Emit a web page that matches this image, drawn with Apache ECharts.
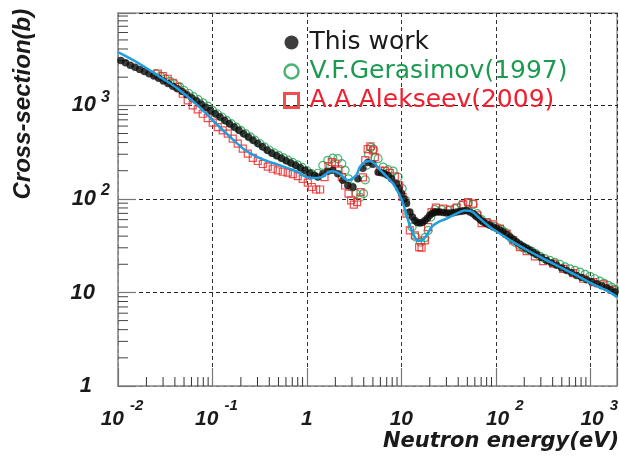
<!DOCTYPE html>
<html><head><meta charset="utf-8">
<script src="https://cdn.jsdelivr.net/npm/echarts@6/dist/echarts.min.js"></script>
<style>html,body{margin:0;padding:0;background:#fff}#c{width:619px;height:458px}</style>
</head><body><div id="c"></div>
<script>
// ---- data ----
const X_MIN = 0.01, X_MAX = 1920, Y_MIN = 1, Y_MAX = 9700;

const thisWorkE = [0.01072,0.01202,0.01349,0.01514,0.01698,0.01905,0.02138,0.02399,0.02692,0.0302,0.03388,0.03802,0.04266,0.04786,0.0537,0.06026,0.06761,0.07586,0.08511,0.0955,0.1072,0.1202,0.1349,0.1514,0.1698,0.1905,0.2138,0.2399,0.2692,0.302,0.3388,0.3802,0.4266,0.4786,0.537,0.6026,0.6761,0.7586,0.8511,0.955,1.072,1.202,
1.305,1.474,1.665,1.881,2.125,2.400,2.713,3.064,3.461,3.910,4.417,4.990,5.68,6.15,6.69,7.2,7.88,8.90,9.45,10.05,10.7,11.35,12.30,13.1,13.90,14.8,15.70,16.7,17.74,18.9,20.04,21.3,22.64,24.0,25.57,27.8,30.11,32.6,35.38,38.4,41.66,45.2,49.06,53.2,57.6,61.2,65.1,69.2,73.5,79.8,86.6,94.0,102.0,110.6,119.8,130.0,141.1,153.1,166.1,180.0,195.1,211.7,229.7,249.3,270.5,305.6,345.2,390,440.6,497.8,562.3,635,717.7,810.7,915.9,1035,1169,1321,1492,1651,1827];
const thisWorkS = [3020,2851,2685,2547,2421,2296,2178,2056,1941,1820,1710,1603,1507,1403,1300,1205,1119,1035,955,881,811,748,689,635,585,540,498,459,424,390,360,331,308,289,272,256,242,229,215,202,189,179,
171,186,197,202,186,158,139,134,164,212,245,234,193,190,186,178,164,145,130,114,100,89,72.3,64,58.9,56,55.1,56,58.9,62,66.7,70,72.3,72.5,72.3,71.4,70.5,70.8,71.2,72.3,73.5,74.4,75.3,72.5,69.5,66.2,63.0,59.6,56.5,54.2,52.1,50.1,48.1,46.1,44.2,41.6,39.1,36.7,34.5,32.7,31.1,29.6,28.2,26.8,25.5,23.7,22.0,20.7,19.5,18.3,17.2,16.2,15.2,14.4,13.7,13.0,12.4,11.8,11.2,10.6,10.1];

const gerasimovE = [0.0251,0.0282,0.0316,0.0355,0.0398,0.0447,0.0501,0.0562,0.0631,0.0708,0.0794,0.0891,0.1,0.1122,0.1259,0.1413,0.1585,0.1778,0.1995,0.2239,0.2512,0.2818,0.3162,0.3548,0.3981,0.4467,0.5012,0.5623,0.631,0.7079,0.7943,0.8913,1.0,1.122,
1.305,1.474,1.665,1.881,2.125,2.342,2.539,2.758,2.99,3.32,3.66,3.98,4.15,4.32,4.50,4.75,5.10,5.68,6.42,7.25,8.19,9.25,10.2,11.08,12.0,13.0,14.24,15.98,17.74,19.2,20.5,22.6,
26.7,31.3,36.9,43.4,51.0,57.6,63.5,70.7,83.1,97.8,105,115.2,125,135.3,147,159.4,177,195.1,215,239.4,265,293.3,330,374.2,420,477.5,540,609.5,690,778,880,993,1120,1267,1400,1551,1700,1827];
const gerasimovS = [2178,2051,1923,1807,1694,1585,1442,1337,1236,1148,1062,980,883,813,750,690,637,586,541,499,460,424,391,360,333,311,292,275,259,245,231,217,200,186,
188,228,258,273,269,238,202,164,134,114,104,114,160,230,300,355,340,269,219,205,198,171,129,96.4,69.5,50.0,39.1,34.5,38.5,46.0,64.0,76.7,
76.7,75.3,78.5,85.3,90.2,87.3,69.5,60.0,55.1,50.8,49,46.9,44,40.7,37.5,34.5,32,30.1,29,27.7,26,24.3,23,22.0,21,20.0,18.8,17.9,17.2,16.5,15.6,14.9,14.0,13.2,12.5,11.9,11.3,10.7];

const alekseevE = [0.02634,0.02975,0.0336,0.03797,0.04288,0.04845,0.05472,0.0618,0.06984,0.07888,0.0891,0.1007,0.1138,0.1285,0.1452,0.1641,0.1853,0.2094,0.2365,0.2673,0.302,0.3411,0.3853,0.4353,0.4917,0.5555,0.6275,0.7089,0.8009,0.9048,
1.022,1.127,1.252,1.380,1.536,1.694,1.835,1.990,2.161,2.342,2.539,2.758,2.939,3.139,3.402,3.697,3.92,4.15,4.40,4.70,5.0,5.24,5.92,
6.69,7.55,8.53,9.48,10.30,11.35,12.30,13.90,15.44,16.37,17.74,19.22,20.89,23.20,27.73,32.64,38.44,45.15,51.01,57.63,63.53,70.73,79.90,93.87,110.5,130.1,152.9,180.0,212.0,259.5,317.8,405.6,517.6,660.5,843.0,1076,1373,1686];
const alekseevS = [2177,2051,1923,1743,1565,1330,1128,997,904,813,730,652,585,540,498,440,389,344,304,275,254,236,221,210,202,195,191,184,175,164,
149,134,126,126,171,224,247,238,207,171,139,114,96.4,86.7,92.5,118,170,260,340,365,330,279,201,
199,189,174,139,105,69.5,46,40.7,30.5,30.1,36,50,72.3,80.8,78.5,76.7,80.8,87.3,92.2,89,66.5,55.1,56.5,53.3,48.1,42.6,36,30.5,27.7,24.3,21.6,20.3,17.9,16.1,14.0,12.9,12.2,10.7];

const evalE = [0.01,0.0162,0.0263,0.0429,0.0698,0.1008,0.1452,0.2173,0.327,0.494,0.736,1.107,1.414,1.805,2.215,2.713,3.32,3.635,4.106,4.638,5.24,5.92,6.97,8.19,9.25,10.45,11.80,13.34,15.07,16.37,18.49,20.89,24.54,30.11,38.44,47.07,55.41,67.87,86.6,110.5,152.9,212.0,317.8,477.5,717.7,1076,1492,1920];
const evalS = [3700,2851,2085,1504,997,690,485,338,269,232,201,167,171,197,186,158,178,219,247,254,238,205,174,145,118,89,58.9,42.6,35.5,36,40.7,50,56.5,61.5,69.5,75.3,73.5,61.5,50,42.6,34.5,28.6,23.0,18.7,15.2,12.2,10.5,8.9];

const seriesNames = ['This work', 'V.F.Gerasimov(1997)', 'A.A.Alekseev(2009)'];
const xAxisTitle = 'Neutron energy(eV)';
const yAxisTitle = 'Cross-section(b)';

// minor tick positions (2..9 x 10^n)
const xMinorTicks = [];
for (let n = -2; n <= 3; n++) for (let m = 2; m <= 9; m++) { const v = m * Math.pow(10, n); if (v < X_MAX) xMinorTicks.push(+v.toPrecision(3)); }
const yMinorTicks = [];
for (let n = 0; n <= 3; n++) for (let m = 2; m <= 9; m++) { const v = m * Math.pow(10, n); if (v < Y_MAX) yMinorTicks.push(+v.toPrecision(3)); }

// ---- styles ----
const C_BLACK = '#0d0d0d', C_GREEN = '#1fa052', C_RED = '#ee2020', C_BLUE = '#1f9fdf';
const BI = {fontFamily: 'Liberation Sans', fontWeight: 'bold', fontStyle: 'italic', color: '#1a1a1a'};
const zip = (a, b) => a.map((v, i) => [v, b[i]]);
const expOf = v => { const l = Math.log10(v); const r = Math.round(l); return Math.abs(l - r) < 0.01 ? r : null; };
const SQUARE = 'path://M0,0L10,0L10,10L0,10Z';

const chart = echarts.init(document.getElementById('c'), null, {renderer: 'canvas'});
chart.setOption({
  animation: false,
  backgroundColor: '#ffffff',
  grid: {left: 118, right: 2, top: 13, bottom: 72, show: true, borderColor: '#9a9a9a', borderWidth: 1.5, containLabel: false, outerBoundsMode: 'none'},
  legend: {
    orient: 'vertical', left: 283, top: 30, padding: 0, itemGap: 4,
    itemWidth: 26, itemHeight: 14, selectedMode: false,
    textStyle: {fontFamily: 'DejaVu Sans', fontSize: 25, color: '#222'},
    data: [
      {name: seriesNames[0], icon: 'circle', itemStyle: {color: C_BLACK, borderWidth: 0}, textStyle: {color: '#1a1a1a'}},
      {name: seriesNames[1], icon: 'circle', itemStyle: {color: 'rgba(0,0,0,0)', borderColor: C_GREEN, borderWidth: 2.5}, textStyle: {color: '#1b9a50'}},
      {name: seriesNames[2], icon: SQUARE, itemStyle: {color: 'rgba(0,0,0,0)', borderColor: C_RED, borderWidth: 3}, textStyle: {color: '#ee2030'}}
    ]
  },
  xAxis: {
    type: 'log', logBase: 10, min: X_MIN, max: X_MAX,
    name: xAxisTitle, nameLocation: 'end', nameGap: 2, nameMoveOverlap: false,
    nameTextStyle: {fontFamily: 'DejaVu Sans', fontWeight: 'bold', fontStyle: 'italic', fontSize: 21, color: '#1a1a1a', align: 'right', verticalAlign: 'top', padding: [45, 0, 0, 0]},
    axisLine: {show: true, lineStyle: {color: '#9a9a9a', width: 1.5}},
    axisTick: {show: true, inside: true, length: 18, lineStyle: {color: '#777', width: 1.2}},
    splitLine: {show: true, lineStyle: {color: '#333', type: [4, 3], width: 1}},
    axisLabel: {
      margin: 12,
      formatter: v => {
        const e = expOf(v);
        if (e === null) return '';
        if (e === 0) return '{b|1}';
        if (e === 1) return '{b|10}';
        return (e < 0 ? '{bn|10}' : '{bp|10}') + '{s|' + e + '}';
      },
      rich: {
        b: Object.assign({}, BI, {fontSize: 21, lineHeight: 43}),
        bn: Object.assign({}, BI, {fontSize: 21, lineHeight: 43, padding: [0, 0, 0, 8]}),
        bp: Object.assign({}, BI, {fontSize: 21, lineHeight: 43, padding: [0, 0, 0, 18]}),
        s: Object.assign({}, BI, {fontSize: 15, lineHeight: 16, padding: [0, 0, 27, 6]})
      }
    }
  },
  yAxis: {
    type: 'log', logBase: 10, min: Y_MIN, max: Y_MAX,
    name: yAxisTitle, nameLocation: 'middle', nameRotate: 90, nameGap: 95, nameMoveOverlap: false,
    nameTextStyle: Object.assign({}, BI, {fontSize: 24, align: 'left', verticalAlign: 'middle'}),
    axisLine: {show: true, lineStyle: {color: '#9a9a9a', width: 1.5}},
    axisTick: {show: true, inside: true, length: 18, lineStyle: {color: '#777', width: 1.2}},
    splitLine: {show: true, lineStyle: {color: '#222', type: [4, 3], width: 1}},
    axisLabel: {
      margin: 8,
      formatter: v => {
        const e = expOf(v);
        if (e === null) return '';
        if (e === 0) return '{b1|1}';
        if (e === 1) return '{b10|10}';
        return '{b|10}{s|' + e + '}';
      },
      rich: {
        b: Object.assign({}, BI, {fontSize: 22}),
        b1: Object.assign({}, BI, {fontSize: 22, padding: [0, 18, 0, 0]}),
        b10: Object.assign({}, BI, {fontSize: 22, padding: [0, 15, 0, 0]}),
        s: Object.assign({}, BI, {fontSize: 16, lineHeight: 16, padding: [0, 0, 16, 5]})
      }
    }
  },
  series: [
    {type: 'custom', name: 'xminor', silent: true, z: 1, data: xMinorTicks.map(v => [v, Y_MIN]),
     renderItem: (p, api) => { const c = api.coord([api.value(0), api.value(1)]); return {type: 'line', shape: {x1: c[0], y1: c[1], x2: c[0], y2: c[1] - 9}, style: {stroke: '#333', lineWidth: 1}}; }},
    {type: 'custom', name: 'yminor', silent: true, z: 1, data: yMinorTicks.map(v => [X_MIN, v]),
     renderItem: (p, api) => { const c = api.coord([api.value(0), api.value(1)]); return {type: 'line', shape: {x1: c[0], y1: c[1], x2: c[0] + 10, y2: c[1]}, style: {stroke: '#444', lineWidth: 1}}; }},
    {type: 'scatter', name: seriesNames[1], data: zip(gerasimovE, gerasimovS), symbol: 'circle', symbolSize: 8,
     itemStyle: {color: 'rgba(0,0,0,0)', borderColor: C_GREEN, borderWidth: 1.2}, z: 2},
    {type: 'scatter', name: seriesNames[2], data: zip(alekseevE, alekseevS), symbol: 'rect', symbolSize: 7,
     itemStyle: {color: 'rgba(0,0,0,0)', borderColor: C_RED, borderWidth: 1.2}, z: 3},
    {type: 'scatter', name: seriesNames[0], data: zip(thisWorkE, thisWorkS), symbol: 'circle', symbolSize: 7.5,
     itemStyle: {color: C_BLACK}, z: 4},
    {type: 'line', name: 'Evaluation', data: zip(evalE, evalS), showSymbol: false, symbol: 'none', smooth: 0.35,
     lineStyle: {color: C_BLUE, width: 2.5}, z: 5}
  ]
});
</script></body></html>
